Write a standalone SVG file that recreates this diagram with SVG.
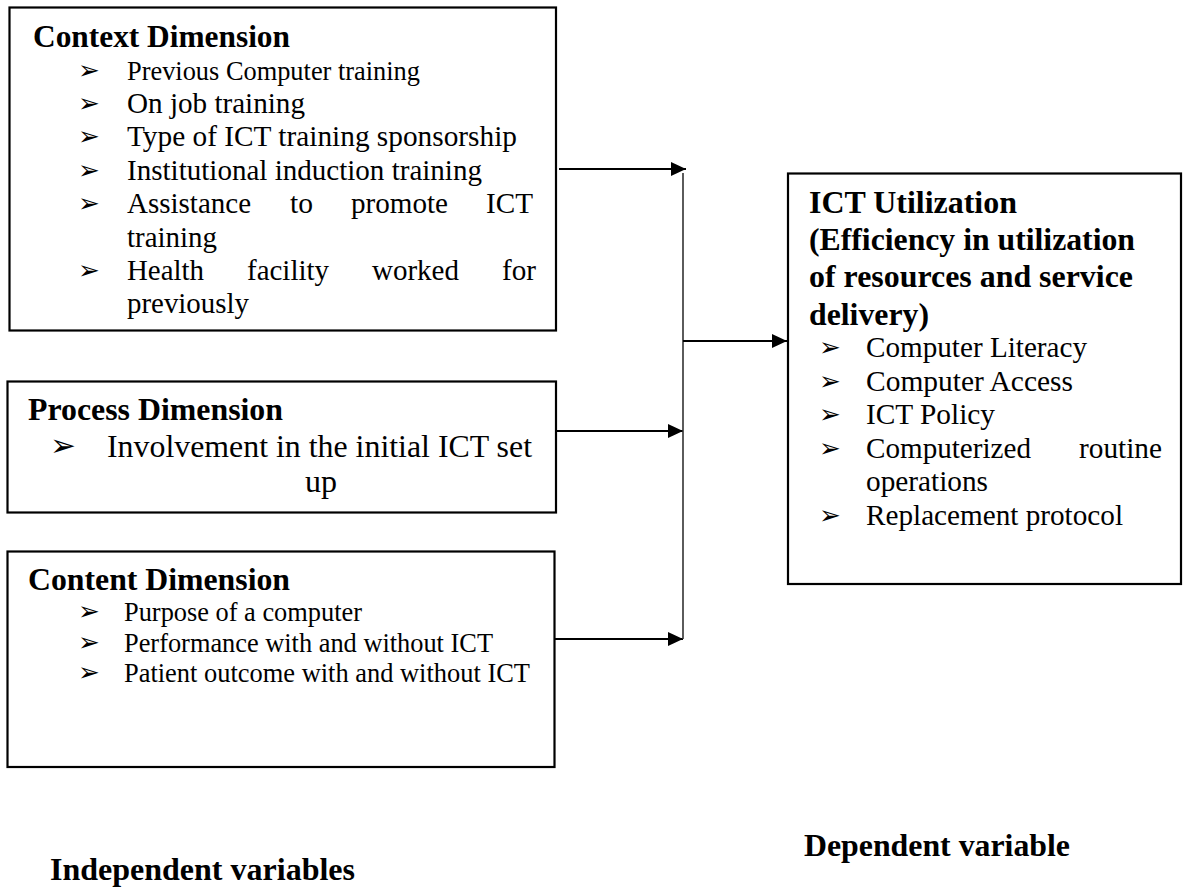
<svg xmlns="http://www.w3.org/2000/svg" width="1183" height="895" viewBox="0 0 1183 895">
<defs>
<style>
.box{fill:#fff;stroke:#000;stroke-width:2.2}
.t{font-family:"Liberation Serif","Times New Roman",serif;fill:#000}
.h{font-weight:bold;font-size:31.8px}
.i{font-size:29px}
.s{font-size:26.4px}
.p{font-size:31.8px}
.b{font-family:"DejaVu Sans",sans-serif;fill:#000;font-size:26px}
.bp{font-size:31px}
.ln{fill:none;stroke:#000;stroke-width:2.2}
.vl{fill:none;stroke:#333;stroke-width:1.6}
</style>
<marker id="ah" markerUnits="userSpaceOnUse" markerWidth="16" markerHeight="15" refX="15" refY="7" orient="auto">
<path d="M0,0 L15,7 L0,14 z" fill="#000"/>
</marker>
</defs>
<rect width="1183" height="895" fill="#fff"/>

<g id="context">
<rect class="box" x="9.5" y="7.5" width="546.5" height="323"/>
<text class="t h" x="33" y="47" textLength="257" lengthAdjust="spacingAndGlyphs">Context Dimension</text>
<text class="b" x="78" y="79">➢</text>
<text class="t s" x="127" y="80" textLength="293" lengthAdjust="spacingAndGlyphs">Previous Computer training</text>
<text class="b" x="78" y="112">➢</text>
<text class="t i" x="127" y="113" textLength="178" lengthAdjust="spacingAndGlyphs">On job training</text>
<text class="b" x="78" y="145">➢</text>
<text class="t i" x="127" y="146" textLength="390" lengthAdjust="spacingAndGlyphs">Type of ICT training sponsorship</text>
<text class="b" x="78" y="179">➢</text>
<text class="t i" x="127" y="180" textLength="355" lengthAdjust="spacingAndGlyphs">Institutional induction training</text>
<text class="b" x="78" y="212">➢</text>
<text class="t i" x="127" y="213" textLength="124" lengthAdjust="spacingAndGlyphs">Assistance</text>
<text class="t i" x="290" y="213" textLength="23" lengthAdjust="spacingAndGlyphs">to</text>
<text class="t i" x="351" y="213" textLength="97" lengthAdjust="spacingAndGlyphs">promote</text>
<text class="t i" x="486" y="213" textLength="47" lengthAdjust="spacingAndGlyphs">ICT</text>
<text class="t i" x="127" y="247" textLength="90" lengthAdjust="spacingAndGlyphs">training</text>
<text class="b" x="78" y="279">➢</text>
<text class="t i" x="127" y="280" textLength="77" lengthAdjust="spacingAndGlyphs">Health</text>
<text class="t i" x="247" y="280" textLength="82" lengthAdjust="spacingAndGlyphs">facility</text>
<text class="t i" x="372" y="280" textLength="87" lengthAdjust="spacingAndGlyphs">worked</text>
<text class="t i" x="502" y="280" textLength="34" lengthAdjust="spacingAndGlyphs">for</text>
<text class="t i" x="127" y="313" textLength="122" lengthAdjust="spacingAndGlyphs">previously</text>
</g>

<g id="process">
<rect class="box" x="7.5" y="381.5" width="548.5" height="131"/>
<text class="t h" x="28" y="420" textLength="255" lengthAdjust="spacingAndGlyphs">Process Dimension</text>
<text class="b bp" x="50" y="456">➢</text>
<text class="t p" x="107" y="457" textLength="425" lengthAdjust="spacingAndGlyphs">Involvement in the initial ICT set</text>
<text class="t p" x="305" y="492" textLength="32" lengthAdjust="spacingAndGlyphs">up</text>
</g>

<g id="content">
<rect class="box" x="7.5" y="551.5" width="547" height="215.5"/>
<text class="t h" x="28" y="590" textLength="262" lengthAdjust="spacingAndGlyphs">Content Dimension</text>
<text class="b" x="78" y="620">➢</text>
<text class="t s" x="124" y="621" textLength="238" lengthAdjust="spacingAndGlyphs">Purpose of a computer</text>
<text class="b" x="78" y="651">➢</text>
<text class="t s" x="124" y="652" textLength="369" lengthAdjust="spacingAndGlyphs">Performance with and without ICT</text>
<text class="b" x="78" y="681">➢</text>
<text class="t s" x="124" y="682" textLength="406" lengthAdjust="spacingAndGlyphs">Patient outcome with and without ICT</text>
</g>

<g id="ict-utilization">
<rect class="box" x="788" y="173.5" width="393" height="410.5"/>
<text class="t h" x="809" y="213" textLength="208" lengthAdjust="spacingAndGlyphs">ICT Utilization</text>
<text class="t h" x="809" y="250" textLength="326" lengthAdjust="spacingAndGlyphs">(Efficiency in utilization</text>
<text class="t h" x="809" y="287" textLength="324" lengthAdjust="spacingAndGlyphs">of resources and service</text>
<text class="t h" x="809" y="325" textLength="120" lengthAdjust="spacingAndGlyphs">delivery)</text>
<text class="b" x="819" y="356">➢</text>
<text class="t i" x="866" y="357" textLength="221" lengthAdjust="spacingAndGlyphs">Computer Literacy</text>
<text class="b" x="819" y="390">➢</text>
<text class="t i" x="866" y="391" textLength="207" lengthAdjust="spacingAndGlyphs">Computer Access</text>
<text class="b" x="819" y="423">➢</text>
<text class="t i" x="866" y="424" textLength="129" lengthAdjust="spacingAndGlyphs">ICT Policy</text>
<text class="b" x="819" y="457">➢</text>
<text class="t i" x="866" y="458" textLength="165" lengthAdjust="spacingAndGlyphs">Computerized</text>
<text class="t i" x="1079" y="458" textLength="83" lengthAdjust="spacingAndGlyphs">routine</text>
<text class="t i" x="866" y="491" textLength="122" lengthAdjust="spacingAndGlyphs">operations</text>
<text class="b" x="819" y="524">➢</text>
<text class="t i" x="866" y="525" textLength="257" lengthAdjust="spacingAndGlyphs">Replacement protocol</text>
</g>

<g id="label-independent">
<text class="t h" x="50" y="880" textLength="305" lengthAdjust="spacingAndGlyphs">Independent variables</text>
</g>
<g id="label-dependent">
<text class="t h" x="804" y="856" textLength="266" lengthAdjust="spacingAndGlyphs">Dependent variable</text>
</g>

<g id="connectors">
<path class="ln" d="M559,169 H686" marker-end="url(#ah)"/>
<path class="ln" d="M556,431 H683" marker-end="url(#ah)"/>
<path class="ln" d="M554,639 H683" marker-end="url(#ah)"/>
<path class="vl" d="M683,173 V639"/>
<path class="ln" d="M683,341 H787" marker-end="url(#ah)"/>
</g>
</svg>
